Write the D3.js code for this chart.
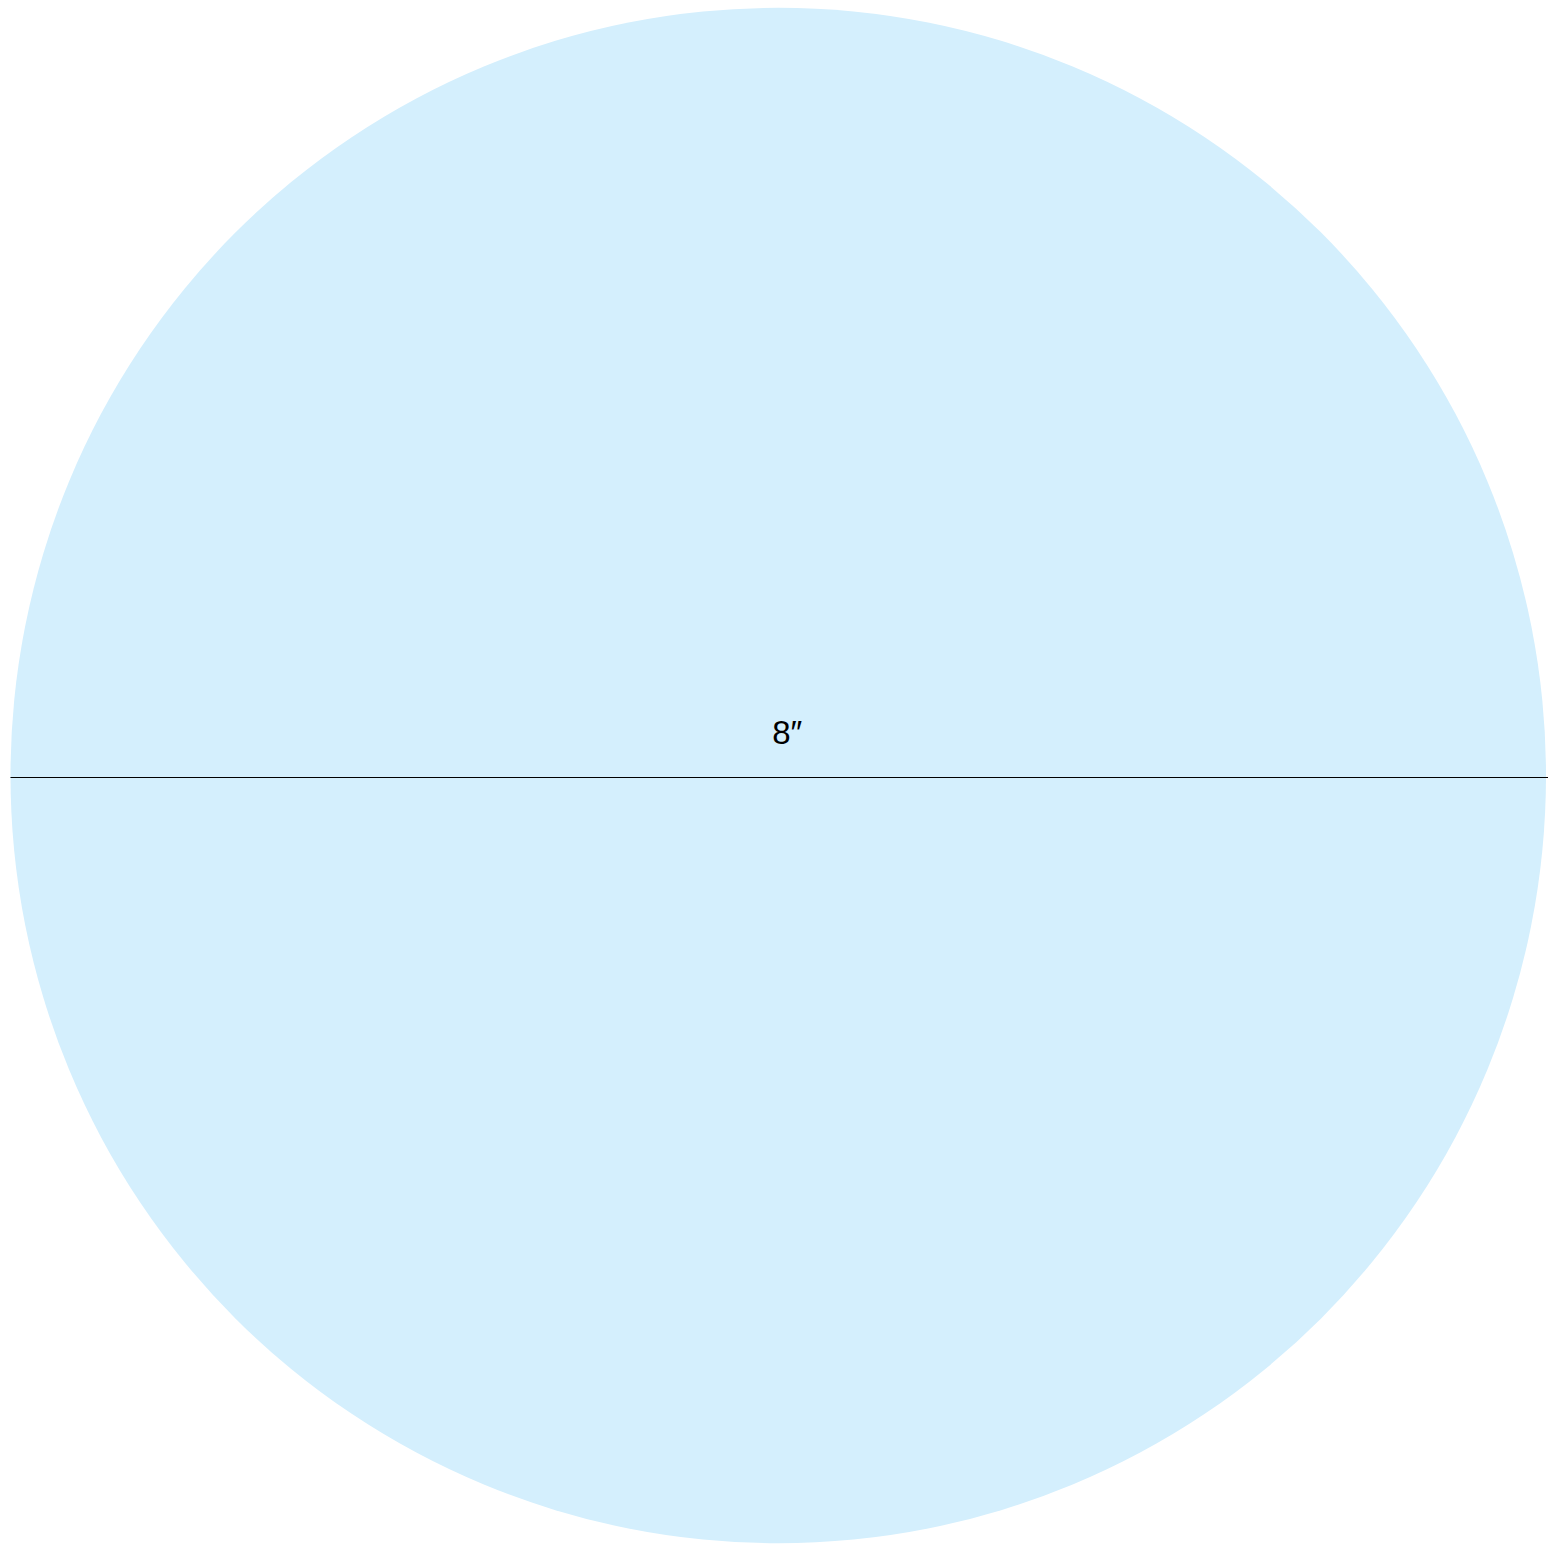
<!DOCTYPE html>
<html>
<head>
<meta charset="utf-8">
<script src="https://cdn.jsdelivr.net/npm/d3@7"></script>
<style>
  body { margin: 0; background: #fff; }
  svg { display: block; }
</style>
</head>
<body>
<svg id="chart"></svg>
<script>
// circle with its diameter marked

var diameters = [8];
var diameterLabels = ["8\u2033"];

var width = 1559, height = 1551;

var svg = d3.select("#chart")
  .attr("width", width)
  .attr("height", height);

// inches -> pixels, across the circle
var x = d3.scaleLinear()
  .domain([0, diameters[0]])
  .range([10.5, 1546]);

var cy = 775.5;
var cx = (x(0) + x(diameters[0])) / 2;

svg.selectAll("circle.disc")
  .data(diameters)
  .enter()
  .append("circle")
  .attr("class", "disc")
  .attr("cx", cx)
  .attr("cy", cy)
  .attr("r", function(d){ return (x(d) - x(0)) / 2; })
  .style("fill", "#d4effd");

// keep the 1px line on a whole pixel row so it stays crisp
svg.selectAll("line.diam")
  .data(diameters)
  .enter()
  .append("line")
  .attr("class", "diam")
  .attr("x1", x(0))
  .attr("x2", function(d){ return x(d) + 2; })
  .attr("y1", cy + 2)
  .attr("y2", cy + 2)
  .style("stroke", "#000")
  .style("stroke-width", 1);

svg.selectAll("text.lbl")
  .data(diameterLabels)
  .enter()
  .append("text")
  .attr("class", "lbl")
  .attr("x", cx + 9)
  .attr("y", cy - 32)
  .attr("text-anchor", "middle")
  .style("font-family", "Liberation Sans, Arial, sans-serif")
  .style("font-size", "33px")
  .style("fill", "#000")
  .text(function(d){ return d; });
</script>
</body>
</html>
